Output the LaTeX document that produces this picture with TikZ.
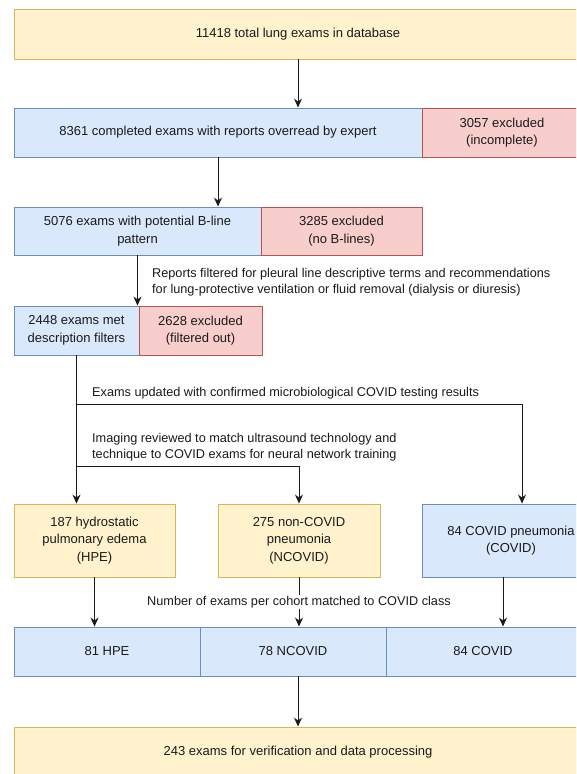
\documentclass[tikz,border=0pt]{standalone}
\usepackage{fontspec}
\setmainfont{Liberation Sans}
\usepackage{tikz}
\usetikzlibrary{arrows.meta}
\definecolor{ylwfill}{HTML}{FFF2CC}
\definecolor{ylwline}{HTML}{D6B656}
\definecolor{blufill}{HTML}{DAE8FC}
\definecolor{bluline}{HTML}{6C8EBF}
\definecolor{redfill}{HTML}{F8CECC}
\definecolor{redline}{HTML}{B85450}
\definecolor{ink}{HTML}{1A1A1A}
\newcommand{\txt}{\fontsize{13}{17.5}\selectfont}

\begin{document}
\begin{tikzpicture}[x=1pt,y=-1pt,
	box/.style={rectangle, inner sep=2pt, align=center, line width=0.9pt, font=\txt, text=ink},
	sz/.style 2 args={minimum width=#1, minimum height=#2},
	ylw/.style={box, fill=ylwfill, draw=ylwline},
	blu/.style={box, fill=blufill, draw=bluline},
	rd/.style={box, fill=redfill, draw=redline},
	note/.style={align=left, inner sep=0pt, font=\fontsize{12.7}{16}\selectfont, text=ink},
	arr/.style={-{Stealth[length=9pt,width=8pt]}, line width=1pt, draw=ink}]
	\clip (0,0) rectangle (576,774);
	\fill[white] (0,0) rectangle (576,774);
	% boxes
	\node[ylw, sz={568}{50}] (db) at (298,34) {11418 total lung exams in database};
	\node[blu, sz={408}{49}] (done) at (218,132.5) {8361 completed exams with reports overread by expert};
	\node[rd, sz={160}{49}] (exa) at (502,132.5) {3057 excluded\\(incomplete)};
	\node[blu, sz={247}{48}] (bline) at (137.5,231) {5076 exams with potential B-line\\pattern};
	\node[rd, sz={161}{48}] (exb) at (341.5,231) {3285 excluded\\(no B-lines)};
	\node[blu, sz={125}{49}] (met) at (76.5,330.5) {2448 exams met\\description filters};
	\node[rd, sz={123}{49}] (exc) at (200.5,330.5) {2628 excluded\\(filtered out)};
	\node[ylw, sz={161}{73}] (hpe) at (94.5,540.5) {187 hydrostatic\\pulmonary edema\\(HPE)};
	\node[ylw, sz={162}{73}] (ncov) at (299,540.5) {275 non-COVID\\pneumonia\\(NCOVID)};
	\node[blu, sz={178}{73}] (cov) at (511,540.5) {84 COVID pneumonia\\(COVID)};
	\node[blu, sz={186}{49}] (c1) at (107,651.5) {81 HPE};
	\node[blu, sz={186}{49}] (c2) at (293,651.5) {78 NCOVID};
	\node[blu, sz={194}{49}] (c3) at (483,651.5) {84 COVID};
	\node[ylw, sz={568}{50}] (out) at (298,752) {243 exams for verification and data processing};
	% notes
	\node[note, anchor=west] (n1) at (152,282) {Reports filtered for pleural line descriptive terms and recommendations\\for lung-protective ventilation or fluid removal (dialysis or diuresis)};
	\node[note, anchor=west] (n2) at (92,393) {Exams updated with confirmed microbiological COVID testing results};
	\node[note, anchor=west] (n3) at (92,447) {Imaging reviewed to match ultrasound technology and\\technique to COVID exams for neural network training};
	% connectors
	\coordinate (j1) at (76.5,404);
	\coordinate (k1) at (522,404);
	\coordinate (j2) at (76.5,466);
	\coordinate (k2) at (299,466);
	\draw[arr] (db.south) -- (db.south |- done.north);
	\draw[arr] (done.south) -- (done.south |- bline.north);
	\draw[arr] (bline.south) -- (bline.south |- met.north);
	\draw[arr] (met.south) -- (met.south |- hpe.north);
	\draw[arr] (j1) -- (k1) -- (k1 |- cov.north);
	\draw[arr] (j2) -- (k2) -- (k2 |- ncov.north);
	\draw[arr] (hpe.south) -- (hpe.south |- c1.north);
	\draw[arr] (ncov.south) -- node[fill=white, inner sep=1pt, font=\fontsize{12.7}{16}\selectfont, text=ink] (n4) {Number of exams per cohort matched to COVID class} (ncov.south |- c2.north);
	\draw[arr] ([xshift=-8pt]cov.south) -- ([xshift=-8pt]cov.south |- c3.north);
	\draw[arr] (out.north |- c2.south) -- (out.north);
\end{tikzpicture}
\end{document}
